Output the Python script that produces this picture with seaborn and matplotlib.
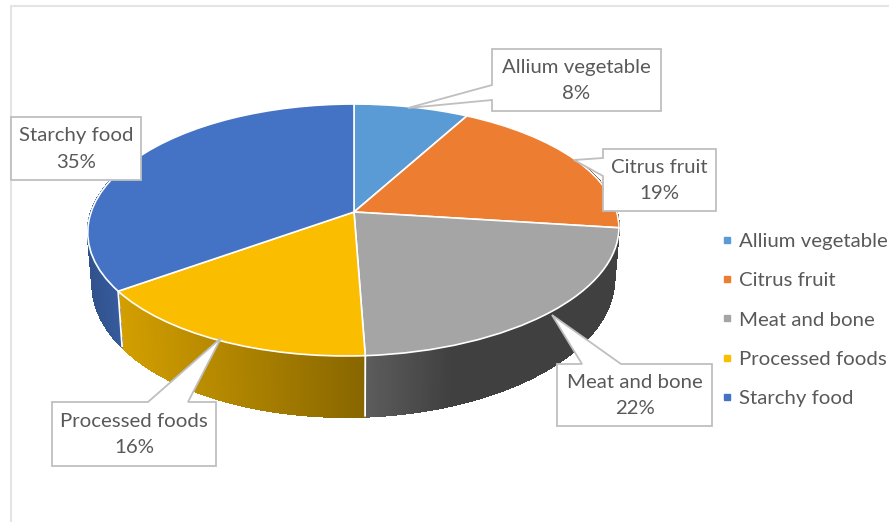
import numpy as np
import matplotlib
matplotlib.use("Agg")
import matplotlib.pyplot as plt
import matplotlib.transforms as mtransforms
from matplotlib.collections import PolyCollection
from matplotlib.lines import Line2D
from matplotlib.patches import Polygon
import seaborn as sns

# Share of each food category (percent)
categories = ["Allium vegetable", "Citrus fruit", "Meat and bone", "Processed foods", "Starchy food"]
shares = [8, 19, 22, 16, 35]
slice_colors = ["#5B9BD5", "#ED7D31", "#A5A5A5", "#FBBD00", "#4472C4"]

TEXT_COLOR = "#595959"
BOX_EDGE = "#BFBFBF"
FRAME = "#E4E4E4"
FONT = "Lato"
FONT_SIZE = 14.7

sns.set_theme(style="white", font=FONT)
palette = sns.color_palette(slice_colors)

W, H = 889, 522
fig = plt.figure(figsize=(W / 100, H / 100), dpi=100)
ax = fig.add_axes([0, 0, 1, 1])

# Perspective of the pie's top face, in canvas units
APEX = (354.0, 212.0)
A, B, K, SKEW = 262.8, 123.4, 0.1429, -4.0


def project(u, v):
    d = 1 + K * v
    return APEX[0] + A * u / d + SKEW * v * (v - 1), APEX[1] - B * v / d


class TopFace(mtransforms.Transform):
    input_dims = output_dims = 2
    is_separable = False
    has_inverse = False

    def transform_non_affine(self, values):
        values = np.asarray(values, dtype=float)
        x, y = project(values[:, 0], values[:, 1])
        return np.column_stack([x, y])


def rim(theta):
    """Upper and lower rim points for clockwise angles from twelve o'clock."""
    u, v = np.sin(theta), np.cos(theta)
    x, y = project(u, v)
    drop = 49 + 12 * np.clip(-v, 0, None)
    return x, y, APEX[0] + (x - APEX[0]) * 0.983, y + drop


# Side wall shading per slice: brightness against canvas x
wall_shades = {
    1: ([560, 620], [0.5, 0.5]),
    2: ([365, 450, 620], [0.56, 0.39, 0.39]),
    3: ([118, 365], [0.84, 0.54]),
    4: ([89, 119], [0.72, 0.80]),
}

edges = np.radians(np.cumsum([0] + shares) * 3.6)
wedge_xf = TopFace() + ax.transData

wedges, *_ = ax.pie(
    shares, colors=palette, startangle=90, counterclock=False, labeldistance=None,
    wedgeprops=dict(edgecolor="white", linewidth=1.2, transform=wedge_xf, zorder=3),
)
ax.set_aspect("auto")
ax.set_xlim(0, W)
ax.set_ylim(H, 0)
ax.axis("off")

# Side walls, painted as thin vertical strips under the top face.
# Only the front arc can show, so the back of the rim is left out.
front_arc = np.radians([65, 295])
for i, (xp, fp) in wall_shades.items():
    theta = np.linspace(max(edges[i], front_arc[0]), min(edges[i + 1], front_arc[1]), 160)
    xt, yt, xb, yb = rim(theta)
    quads, tones = [], []
    for j in range(len(theta) - 1):
        quads.append([(xt[j], yt[j]), (xt[j + 1], yt[j + 1]), (xb[j + 1], yb[j + 1]), (xb[j], yb[j])])
        tones.append(np.array(palette[i]) * np.interp(0.5 * (xt[j] + xt[j + 1]), xp, fp))
    ax.add_collection(PolyCollection(quads, facecolors=tones, edgecolors=tones, linewidths=0.8,
                                     antialiaseds=False, zorder=1), autolim=False)

# White seams where walls meet
for i in (3, 4):
    xt, yt, xb, yb = rim(edges[i])
    ax.plot([xt, xb], [yt, yb], color="white", lw=1.3, zorder=2, solid_capstyle="butt")

# Chart area border (top and left only show)
ax.plot([11, 11], [H, 6], color=FRAME, lw=1.5, zorder=0)
ax.plot([11, W], [6, 6], color=FRAME, lw=1.5, zorder=0)

# Callout outlines, with the pointer running to its slice
callouts = [
    [(492, 49), (661, 49), (661, 111), (492, 111), (492, 100), (408, 108), (492, 85)],
    [(603, 149), (716, 149), (716, 211), (603, 211), (603, 176), (574, 160), (603, 158)],
    [(557, 364), (582, 364), (552, 315), (621, 364), (712, 364), (712, 426), (557, 426)],
    [(52, 402), (148, 402), (221, 338), (188, 402), (216, 402), (216, 466), (52, 466)],
    [(11, 117), (141, 117), (141, 180), (11, 180)],
]
for i, outline in enumerate(callouts):
    ax.add_patch(Polygon(outline, closed=True, facecolor="white", edgecolor=BOX_EDGE, lw=1.3, zorder=4, joinstyle="miter"))
    xs, ys = zip(*outline[:4]) if i not in (2, 3) else zip(*[outline[0], outline[4], outline[5], outline[6]])
    cx, cy = (min(xs) + max(xs)) / 2, (min(ys) + max(ys)) / 2
    ax.text(cx, cy + 0.5, f"{categories[i]}\n{shares[i]}%", ha="center", va="center", multialignment="center",
            color=TEXT_COLOR, fontsize=FONT_SIZE, family=FONT, linespacing=1.7, zorder=5)

# Legend
handles = [Line2D([], [], ls="none", marker="s", ms=4.6, mfc=c, mec=c) for c in palette]
ax.legend(handles, categories, loc="upper left", bbox_to_anchor=(718 / W, 1 - 233 / H), frameon=False,
          prop=dict(family=FONT, size=FONT_SIZE), labelcolor=TEXT_COLOR, labelspacing=1.07,
          handlelength=0.9, handletextpad=0.12, borderpad=0, borderaxespad=0)

fig.savefig("out.png", dpi=100, facecolor="white")
